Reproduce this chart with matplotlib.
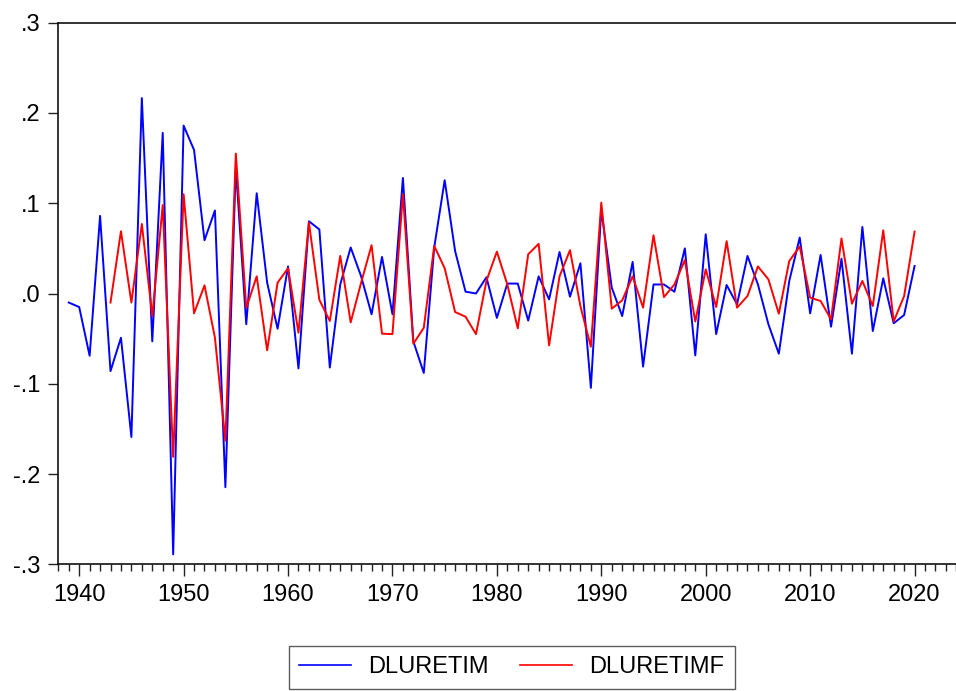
import matplotlib
matplotlib.use("Agg")
import matplotlib.pyplot as plt
from matplotlib.ticker import MultipleLocator, FixedLocator, FixedFormatter

plt.rcParams['font.family'] = ['Liberation Sans', 'DejaVu Sans']

years_blue = list(range(1939, 2021))
dluretim = [
    -0.010, -0.015, -0.069, 0.086, -0.086, -0.049, -0.159, 0.2165, -0.053, 0.178,
    -0.289, 0.186, 0.159, 0.059, 0.092, -0.2146, 0.140, -0.034, 0.111, 0.012,
    -0.039, 0.030, -0.083, 0.080, 0.071, -0.082, 0.010, 0.051, 0.019, -0.023,
    0.0405, -0.023, 0.128, -0.053, -0.088, 0.051, 0.1255, 0.047, 0.002, 0.000,
    0.018, -0.027, 0.011, 0.011, -0.030, 0.019, -0.0065, 0.046, -0.0035, 0.0335,
    -0.1045, 0.093, 0.0065, -0.025, 0.035, -0.081, 0.010, 0.010, 0.002, 0.050,
    -0.0686, 0.0656, -0.045, 0.0094, -0.012, 0.0416, 0.010, -0.034, -0.0667, 0.0139,
    0.062, -0.022, 0.0427, -0.0368, 0.0386, -0.0667, 0.0737, -0.0416, 0.0168, -0.033,
    -0.0238, 0.0305,
]

years_red = list(range(1943, 2021))
dluretimf = [
    -0.010, 0.069, -0.010, 0.077, -0.025, 0.098, -0.181, 0.110, -0.022, 0.009,
    -0.049, -0.163, 0.155, -0.016, 0.019, -0.063, 0.012, 0.028, -0.0435, 0.0785,
    -0.007, -0.0305, 0.0416, -0.032, 0.012, 0.0535, -0.0445, -0.045, 0.110, -0.0557,
    -0.038, 0.0527, 0.028, -0.0205, -0.0257, -0.045, 0.014, 0.0464, 0.010, -0.0386,
    0.0435, 0.055, -0.0575, 0.019, 0.048, -0.014, -0.059, 0.1007, -0.0168, -0.0076,
    0.019, -0.0157, 0.0645, -0.004, 0.010, 0.037, -0.031, 0.0268, -0.015, 0.058,
    -0.0157, -0.0028, 0.030, 0.0157, -0.0224, 0.036, 0.052, -0.0046, -0.0083, -0.0286,
    0.061, -0.0113, 0.0139, -0.0139, 0.070, -0.031, -0.0028, 0.0686,
]

y_ticks = [-0.3, -0.2, -0.1, 0.0, 0.1, 0.2, 0.3]
y_tick_labels = ['-.3', '-.2', '-.1', '.0', '.1', '.2', '.3']
x_ticks = [1940, 1950, 1960, 1970, 1980, 1990, 2000, 2010, 2020]

fig = plt.figure(figsize=(9.56, 6.91), dpi=100)
ax = fig.add_axes([58.3/956, 1 - 564.3/691, 1 - 58.3/956 + 0.002, (564.3 - 22.7)/691])

ax.plot(years_blue, dluretim, color='#0000FF', lw=1.4, label='DLURETIM')
ax.plot(years_red, dluretimf, color='#FF0000', lw=1.4, label='DLURETIMF')

ax.set_xlim(1938.0, 2024.15)
ax.set_ylim(-0.3, 0.3)

ax.yaxis.set_major_locator(FixedLocator(y_ticks))
ax.yaxis.set_major_formatter(FixedFormatter(y_tick_labels))
ax.xaxis.set_major_locator(FixedLocator(x_ticks))
ax.xaxis.set_minor_locator(MultipleLocator(1))

ax.tick_params(axis='both', which='major', direction='out', width=1,
               labelsize=17, color='#222222', labelcolor='#000000')
ax.tick_params(axis='x', which='major', length=8.5, pad=5.5)
ax.tick_params(axis='x', which='minor', direction='out', length=5, width=1, color='#222222')
ax.tick_params(axis='y', which='major', length=7, pad=6)

for s in ['left', 'bottom', 'top']:
    ax.spines[s].set_linewidth(1.2)
    ax.spines[s].set_color('#111111')
ax.spines['right'].set_visible(False)

leg = fig.legend(loc='center', bbox_to_anchor=(511.7/956, 1 - 667.2/691), ncol=2,
                 fontsize=17, frameon=True, fancybox=False, edgecolor='#333333',
                 handlelength=2.2, handletextpad=0.7, columnspacing=1.35,
                 borderpad=0.45, borderaxespad=0)
leg.get_frame().set_linewidth(1.0)
for line in leg.get_lines():
    line.set_linewidth(1.2)

fig.savefig('out.png', dpi=100)
